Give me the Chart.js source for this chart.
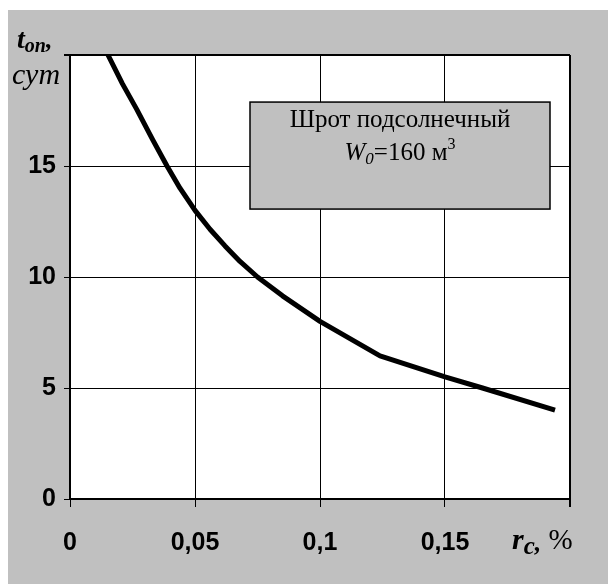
<!DOCTYPE html>
<html>
<head>
<meta charset="utf-8">
<script src="https://cdn.jsdelivr.net/npm/chart.js@4.4.1/dist/chart.umd.min.js"></script>
<style>
    body { margin: 0; background: #fff; }
    #wrap { width: 608px; height: 584px; position: relative; }
</style>
</head>
<body>
<div id="wrap"><canvas id="grafico"></canvas></div>
<script>
// ===== DADOS =====
const rcValues  = [0.0152, 0.021, 0.0267, 0.033, 0.0388, 0.044, 0.050, 0.056, 0.062, 0.068, 0.075, 0.085, 0.100, 0.124, 0.150, 0.165, 0.194];
const tonValues = [20.0,   18.7,  17.55,  16.2,  15.0,   14.0,  13.0,  12.15, 11.4,  10.7,  10.0,  9.15,  8.0,   6.45,  5.5,   5.0,   4.0];

const xTickLabels = ['0', '0,05', '0,1', '0,15', ''];
const yTickLabels = ['0', '5', '10', '15', ''];

const legendaLinha1 = 'Шрот подсолнечный';

const pontos = rcValues.map((x, i) => ({ x, y: tonValues[i] }));

const SERIF = '"Liberation Serif", "Times New Roman", serif';

// Fundo cinza + área branca
const fundoPlugin = {
    id: 'fundo',
    beforeDraw(chart) {
        const { ctx, chartArea: a } = chart;
        ctx.save();
        ctx.fillStyle = '#ffffff';
        ctx.fillRect(0, 0, chart.width, chart.height);
        ctx.fillStyle = '#c0c0c0';
        ctx.fillRect(8, 10, chart.width - 8, chart.height - 10);
        ctx.fillStyle = '#ffffff';
        ctx.fillRect(a.left, a.top, a.right - a.left, a.bottom - a.top);
        ctx.restore();
    }
};

// Caixa de texto e títulos dos eixos
const textosPlugin = {
    id: 'textos',
    afterDatasetsDraw(chart) {
        const { ctx, scales: { x, y } } = chart;
        ctx.save();

        // caixa
        const bx1 = x.getPixelForValue(0.072), bx2 = x.getPixelForValue(0.192);
        const by1 = y.getPixelForValue(17.88), by2 = y.getPixelForValue(13.06);
        ctx.fillStyle = '#c0c0c0';
        ctx.fillRect(bx1, by1, bx2 - bx1, by2 - by1);
        ctx.strokeStyle = '#000';
        ctx.lineWidth = 1.5;
        ctx.strokeRect(bx1, by1, bx2 - bx1, by2 - by1);

        const cx = (bx1 + bx2) / 2;
        ctx.fillStyle = '#000';
        ctx.textBaseline = 'alphabetic';
        desenharPartes(ctx, [{ t: legendaLinha1, f: '25px ' + SERIF, dy: 0 }], cx, by1 + 25, 'center');

        // W0=160 м3
        desenharPartes(ctx, [
            { t: 'W', f: 'italic 25px ' + SERIF, dy: 0 },
            { t: '0', f: 'italic 17px ' + SERIF, dy: 4 },
            { t: '=160 м', f: '25px ' + SERIF, dy: 0 },
            { t: '3', f: '16px ' + SERIF, dy: -11 }
        ], cx, by1 + 58, 'center');

        // título eixo Y
        desenharPartes(ctx, [
            { t: 't', f: 'bold italic 28px ' + SERIF, dy: 0 },
            { t: 'on', f: 'bold italic 20px ' + SERIF, dy: 4 },
            { t: ',', f: 'bold italic 26px ' + SERIF, dy: 0 }
        ], 17, 48, 'left');
        desenharPartes(ctx, [
            { t: 'сут', f: 'italic 30px ' + SERIF, dy: 0 }
        ], 12, 84, 'left');

        // título eixo X
        desenharPartes(ctx, [
            { t: 'r', f: 'bold italic 30px ' + SERIF, dy: 0 },
            { t: 'c', f: 'bold italic 25px ' + SERIF, dy: 5 },
            { t: ',', f: 'bold italic 26px ' + SERIF, dy: 2 },
            { t: ' %', f: '29px ' + SERIF, dy: 0 }
        ], 512, 549, 'left');

        ctx.restore();
    }
};

function desenharPartes(ctx, partes, x, y, align) {
    let total = 0;
    partes.forEach(p => { ctx.font = p.f; total += ctx.measureText(p.t).width; });
    let px = align === 'center' ? x - total / 2 : x;
    ctx.textAlign = 'left';
    partes.forEach(p => {
        ctx.font = p.f;
        ctx.fillText(p.t, px, y + p.dy);
        px += ctx.measureText(p.t).width;
    });
}

const ctx = document.getElementById('grafico');

new Chart(ctx, {
    type: 'line',
    data: {
        datasets: [{
            data: pontos,
            borderColor: '#000',
            borderWidth: 5,
            pointRadius: 0,
            tension: 0,
            borderJoinStyle: 'round',
            fill: false
        }]
    },
    options: {
        responsive: true,
        maintainAspectRatio: false,
        animation: false,
        layout: {
            padding: { top: 55, right: 38, left: 0, bottom: 0 }
        },
        plugins: {
            legend: { display: false },
            tooltip: { enabled: false }
        },
        scales: {
            x: {
                type: 'linear',
                min: 0,
                max: 0.2,
                afterFit(scale) { scale.height = 85; },
                afterBuildTicks(scale) {
                    scale.ticks = [0, 0.05, 0.1, 0.15, 0.2].map(v => ({ value: v }));
                },
                ticks: {
                    autoSkip: false,
                    maxRotation: 0,
                    padding: 21,
                    color: '#000',
                    font: { family: 'Arial, "Liberation Sans", sans-serif', size: 25, weight: 'bold' },
                    callback: (v, i) => xTickLabels[i]
                },
                grid: {
                    color: '#000',
                    lineWidth: c => (c.index === 4 ? 2 : 1),
                    tickLength: 8
                },
                border: { color: '#000', width: 2 }
            },
            y: {
                min: 0,
                max: 20,
                afterFit(scale) { scale.width = 70; },
                ticks: {
                    stepSize: 5,
                    padding: 8,
                    color: '#000',
                    font: { family: 'Arial, "Liberation Sans", sans-serif', size: 25, weight: 'bold' },
                    callback: (v, i) => yTickLabels[i]
                },
                grid: {
                    color: '#000',
                    lineWidth: c => (c.index === 4 ? 2 : 1),
                    tickLength: 6
                },
                border: { color: '#000', width: 2 }
            }
        }
    },
    plugins: [fundoPlugin, textosPlugin]
});
</script>
</body>
</html>
